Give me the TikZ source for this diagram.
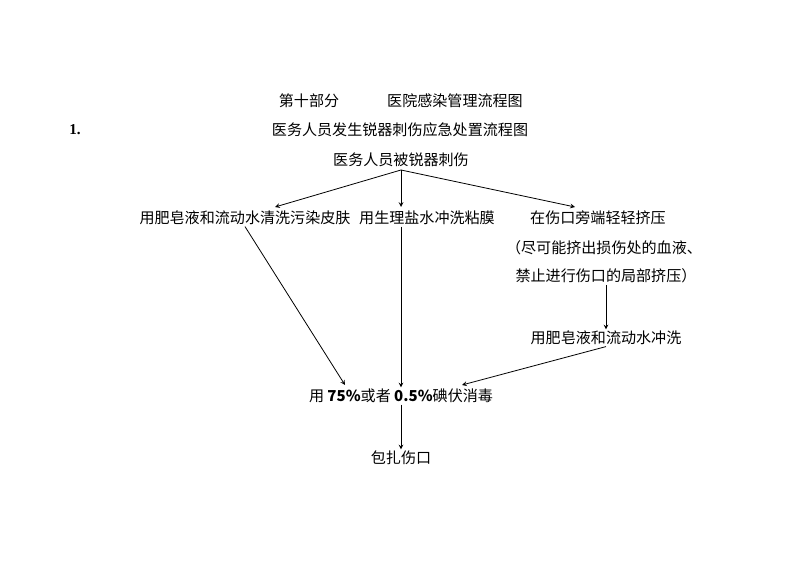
\documentclass[tikz,border=0pt]{standalone}
\usepackage{fontspec}
\setmainfont{Liberation Serif}
\newfontfamily\cjk{Noto Sans CJK SC}
\begin{document}
\begin{tikzpicture}[x=0.75pt,y=-0.75pt,
  lbl/.style={font=\cjk\fontsize{11.3pt}{13pt}\selectfont,inner sep=1pt},
  arr/.style={->,>=stealth,line width=0.6pt}]
\useasboundingbox (0,0) rectangle (800,566);
\node[lbl] (t1) at (309,101) {第十部分};
\node[lbl] (t2) at (455,101) {医院感染管理流程图};
\node[font=\bfseries\fontsize{11.3pt}{13pt}\selectfont] (n1) at (75,130) {1.};
\node[lbl] (t3) at (400,130) {医务人员发生锐器刺伤应急处置流程图};
\node[lbl] (top) at (401,160) {医务人员被锐器刺伤};
\node[lbl] (l) at (245,218) {用肥皂液和流动水清洗污染皮肤};
\node[lbl] (m) at (427,218) {用生理盐水冲洗粘膜};
\node[lbl] (r) at (598,218) {在伤口旁端轻轻挤压};
\node[lbl] (r2) at (604,248) {（尽可能挤出损伤处的血液、};
\node[lbl] (r3) at (606,276) {禁止进行伤口的局部挤压）};
\node[lbl] (r4) at (606,338) {用肥皂液和流动水冲洗};
\node[lbl] (d) at (401,396) {用 \textbf{75\%}或者 \textbf{0.5\%}碘伏消毒};
\node[lbl] (b) at (401,458) {包扎伤口};
\coordinate (s) at (401,170);
\draw[arr] (s) -- (275,207);
\draw[arr] (s) -- (401,207);
\draw[arr] (s) -- (575,207);
\draw[arr] (l.south) -- (345,385);
\draw[arr] (s |- l.south) -- (s |- d.north);
\draw[arr] (r3.south) -- (r4.north);
\draw[arr] (r4.south) -- (462,385);
\draw[arr] (d.south) -- (b.north);
\end{tikzpicture}
\end{document}
